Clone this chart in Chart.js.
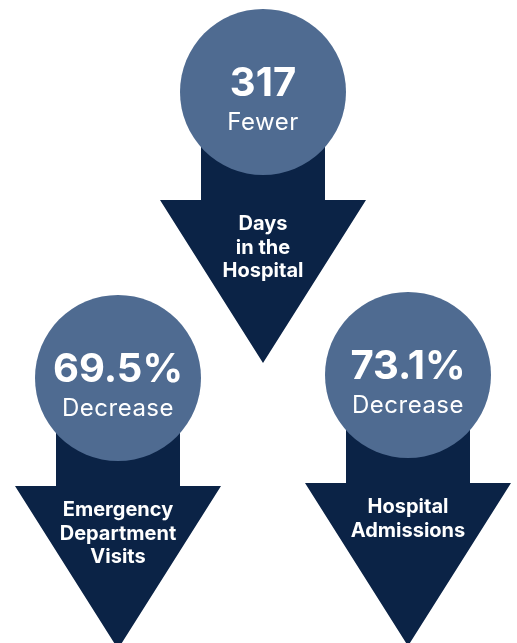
<!DOCTYPE html>
<html>
<head>
<meta charset="utf-8">
<script src="https://cdn.jsdelivr.net/npm/chart.js@4"></script>
<style>
  html, body { margin: 0; padding: 0; background: #fff; }
  #board { display: block; }
</style>
</head>
<body>
<canvas id="board" width="517" height="643"></canvas>
<script>
// figures shown in the three badges
const values = [317, 69.5, 73.1];
const valueSuffix = ['', '%', '%'];
const changeWords = ['Fewer', 'Decrease', 'Decrease'];
const captions = [
  ['Days', 'in the', 'Hospital'],
  ['Emergency', 'Department', 'Visits'],
  ['Hospital', 'Admissions']
];

// badge centres in canvas units (y runs downward)
const badgeX = [263, 118, 408];
const badgeY = [92, 378, 375];

const CIRCLE = '#4f6b91';
const ARROW = '#0b2346';
const RADIUS = 83;
const SHAFT_HALF = 62;
const HEAD_TOP = 108;   // below the badge centre
const HEAD_HALF = 103;
const HEAD_LEN = 163;
const FONT = "Inter, 'Noto Sans', sans-serif";

// arrow behind each badge, drawn through the chart scales
const arrowPlugin = {
  id: 'arrows',
  beforeDatasetsDraw(chart) {
    const { ctx, scales: { x, y } } = chart;
    ctx.save();
    ctx.fillStyle = ARROW;
    badgeX.forEach((bx, i) => {
      const by = badgeY[i];
      const pts = [
        [bx - SHAFT_HALF, by],
        [bx + SHAFT_HALF, by],
        [bx + SHAFT_HALF, by + HEAD_TOP],
        [bx + HEAD_HALF, by + HEAD_TOP],
        [bx, by + HEAD_TOP + HEAD_LEN],
        [bx - HEAD_HALF, by + HEAD_TOP],
        [bx - SHAFT_HALF, by + HEAD_TOP]
      ];
      ctx.beginPath();
      pts.forEach(([px, py], k) => {
        const X = x.getPixelForValue(px);
        const Y = y.getPixelForValue(py);
        if (k === 0) ctx.moveTo(X, Y); else ctx.lineTo(X, Y);
      });
      ctx.closePath();
      ctx.fill();
    });
    ctx.restore();
  },
  afterDatasetsDraw(chart) {
    const { ctx, scales: { x, y } } = chart;
    ctx.save();
    ctx.fillStyle = '#ffffff';
    ctx.textAlign = 'center';
    ctx.textBaseline = 'alphabetic';
    badgeX.forEach((bx, i) => {
      const cx = x.getPixelForValue(bx);
      const cy = y.getPixelForValue(badgeY[i]);
      ctx.letterSpacing = '0px';
      ctx.font = `700 40px ${FONT}`;
      ctx.fillText(values[i] + valueSuffix[i], cx, cy + 4);
      ctx.letterSpacing = '0.5px';
      ctx.font = `400 24px ${FONT}`;
      ctx.fillText(changeWords[i], cx, cy + 38);
      ctx.letterSpacing = '0px';
      ctx.font = `700 20px ${FONT}`;
      captions[i].forEach((line, k) => {
        ctx.fillText(line, cx, cy + HEAD_TOP + 30 + k * 23.5);
      });
    });
    ctx.restore();
  }
};

new Chart(document.getElementById('board'), {
  type: 'scatter',
  data: {
    datasets: [{
      data: badgeX.map((bx, i) => ({ x: bx, y: badgeY[i] })),
      pointRadius: RADIUS,
      pointHoverRadius: RADIUS,
      backgroundColor: CIRCLE,
      borderWidth: 0,
      clip: false
    }]
  },
  options: {
    responsive: false,
    animation: false,
    events: [],
    layout: { padding: 0, autoPadding: false },
    plugins: {
      legend: { display: false },
      tooltip: { enabled: false }
    },
    scales: {
      x: { type: 'linear', min: 0, max: 517, display: false },
      y: { type: 'linear', min: 0, max: 643, reverse: true, display: false }
    }
  },
  plugins: [arrowPlugin]
});
</script>
</body>
</html>
